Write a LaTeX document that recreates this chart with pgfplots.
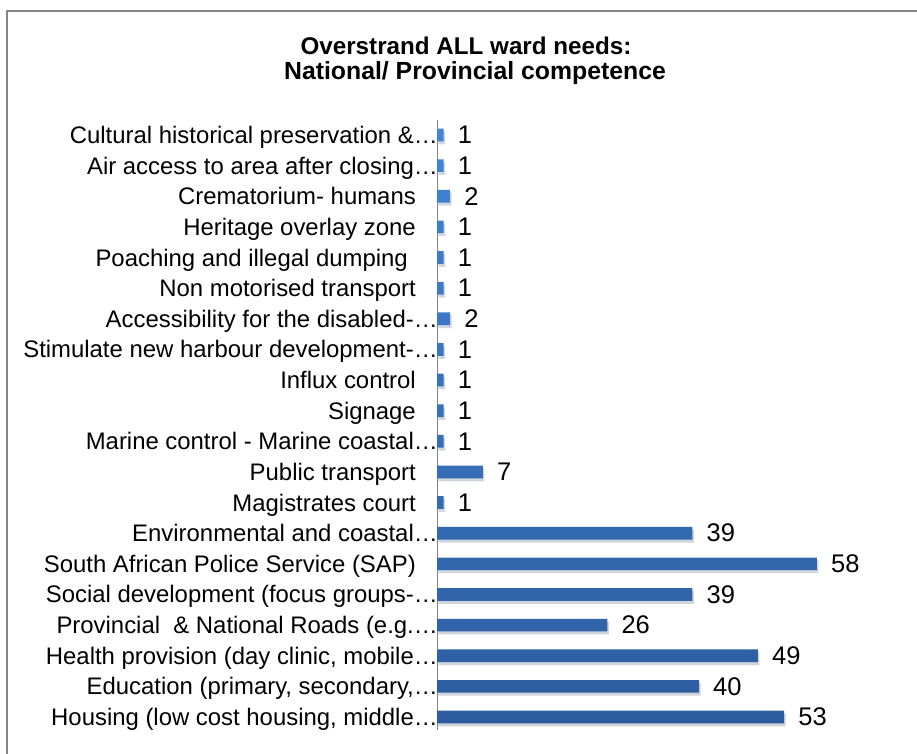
\documentclass[border=0pt]{standalone}
\usepackage{fontspec}
\setmainfont{Liberation Sans}
\usepackage{pgfplots}
\pgfplotsset{compat=1.18}
\definecolor{bartop}{RGB}{66,132,214}
\definecolor{barbot}{RGB}{44,92,158}
\definecolor{framegray}{RGB}{134,134,134}
\newcommand{\trsp}{\kern22bp}
\begin{document}
\begin{tikzpicture}
\useasboundingbox (0,0) rectangle (917bp,754bp);
\draw[framegray, line width=2bp] (7bp,-5bp) -- (7bp,743bp) -- (925bp,743bp);
\node[font=\fontsize{24.2bp}{27bp}\selectfont\bfseries, anchor=base] at (466bp,699bp) {Overstrand ALL ward needs:};
\node[font=\fontsize{24.8bp}{27bp}\selectfont\bfseries, anchor=base] at (475bp,674bp) {National/ Provincial competence};
\begin{axis}[
  at={(437bp,24bp)}, anchor=south west,
  scale only axis, width=458.5bp, height=610bp,
  xmin=0, xmax=70, ymin=-0.424, ymax=19.49,
  axis x line=none, axis y line=left,
  y axis line style={-, draw=framegray, line width=1bp},
  xtick=\empty,
  ytick={0,...,19},
  yticklabels={
    {Housing (low cost housing, middle…},
    {Education (primary, secondary,…},
    {Health provision (day clinic, mobile…},
    {Provincial \ \& National Roads (e.g.…},
    {Social development (focus groups-…},
    {South African Police Service (SAP)\trsp},
    {Environmental and coastal…},
    {Magistrates court\trsp},
    {Public transport\trsp},
    {Marine control - Marine coastal…},
    {Signage\trsp},
    {Influx control\trsp},
    {Stimulate new harbour development-…},
    {Accessibility for the disabled-…},
    {Non motorised transport\trsp},
    {Poaching and illegal dumping\kern30bp},
    {Heritage overlay zone\trsp},
    {Crematorium- humans\trsp},
    {Air access to area after closing…},
    {Cultural historical preservation \&…}
  },
  major tick length=0,
  yticklabel style={anchor=east, inner sep=0pt, xshift=1bp,
    font=\fontsize{23.9bp}{28bp}\selectfont, text height=17bp, text depth=0bp},
  xbar, bar width=12.7bp,
  /pgf/number format/assume math mode=true,
  nodes near coords,
  nodes near coords style={anchor=west, inner sep=0pt, xshift=14bp,
    font=\fontsize{25.5bp}{30bp}\selectfont, text=black},
  clip=false,
]
\addplot[draw=none, top color=bartop, bottom color=barbot,
  preaction={fill=black, fill opacity=0.11, transform canvas={shift={(1.5bp,-3bp)}}}] coordinates {
  (53,0) (40,1) (49,2) (26,3) (39,4) (58,5) (39,6) (1,7) (7,8) (1,9)
  (1,10) (1,11) (1,12) (2,13) (1,14) (1,15) (1,16) (2,17) (1,18) (1,19)
};
\end{axis}
\end{tikzpicture}
\end{document}
